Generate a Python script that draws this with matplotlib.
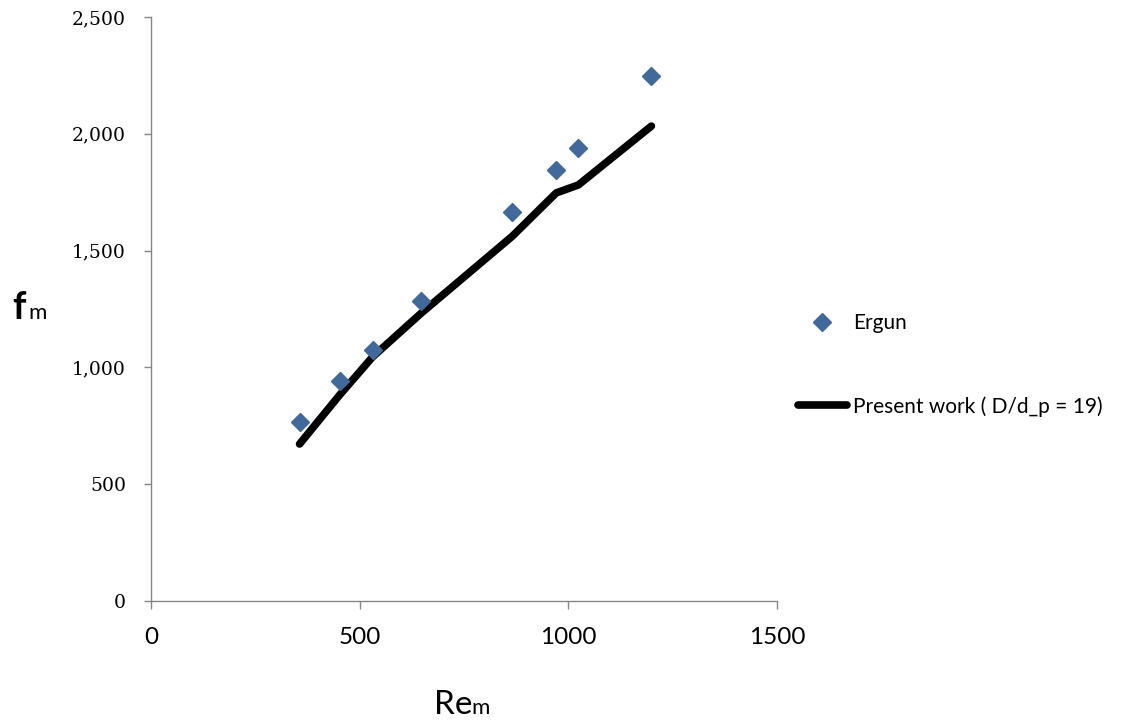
import matplotlib
matplotlib.use("Agg")
import matplotlib.pyplot as plt
from matplotlib.ticker import FuncFormatter

# Data
re_m = [356, 452, 531, 648, 866, 971, 1024, 1199]
ergun = [766, 942, 1074, 1284, 1665, 1845, 1939, 2247]
present = [672, 882, 1045, 1233, 1562, 1747, 1781, 2033]
x_ticks = [0, 500, 1000, 1500]
y_ticks = [0, 500, 1000, 1500, 2000, 2500]
label_ergun = "Ergun"
label_present = "Present work ( D/d_p = 19)"

W, H = 1121, 721
fig = plt.figure(figsize=(W / 100, H / 100), dpi=100)
ax = fig.add_axes([151 / W, 1 - 601 / H, (777 - 151) / W, (601 - 17) / H])

ax.plot(re_m, ergun, linestyle="none", marker="D", markersize=9,
        color="#41699C", label=label_ergun, zorder=3)
ax.plot(re_m, present, color="black", linewidth=5.5, solid_capstyle="round",
        solid_joinstyle="round", label=label_present, zorder=2)

ax.set_xlim(0, 1500)
ax.set_ylim(0, 2500)
ax.set_xticks(x_ticks)
ax.set_yticks(y_ticks)
ax.yaxis.set_major_formatter(FuncFormatter(lambda v, p: f"{int(v):,}"))

for s in ["top", "right"]:
    ax.spines[s].set_visible(False)
for s in ["left", "bottom"]:
    ax.spines[s].set_color("#868686")
    ax.spines[s].set_linewidth(1.0)

ax.tick_params(axis="y", direction="out", length=5, width=1, color="#868686",
               pad=13, labelsize=13.5)
ax.tick_params(axis="x", direction="out", length=6, width=1, color="#868686",
               pad=13, labelsize=17.5)
for t in ax.get_yticklabels():
    t.set_fontfamily("DejaVu Serif")
for t in ax.get_xticklabels():
    t.set_fontfamily("Lato")

# axis labels
fig.text(12 / W, 1 - 319 / H, "f", fontsize=27, fontweight="bold",
         fontfamily="Lato", ha="left", va="baseline")
fig.text(28 / W, 1 - 319 / H, "m", fontsize=16, fontfamily="Lato",
         ha="left", va="baseline")
fig.text(434 / W, 1 - 714 / H, "Re", fontsize=24, fontfamily="Lato",
         ha="left", va="baseline")
fig.text(471 / W, 1 - 714 / H, "m", fontsize=16, fontfamily="Lato",
         ha="left", va="baseline")

leg = ax.legend(loc="center left", bbox_to_anchor=(798 / W, 1 - 365 / H),
                bbox_transform=fig.transFigure, frameon=False, borderpad=0,
                borderaxespad=0, handlelength=2.35, handletextpad=0.29,
                labelspacing=3.0, numpoints=1,
                prop={"family": "Lato", "size": 15})

fig.savefig("out.png", dpi=100)
